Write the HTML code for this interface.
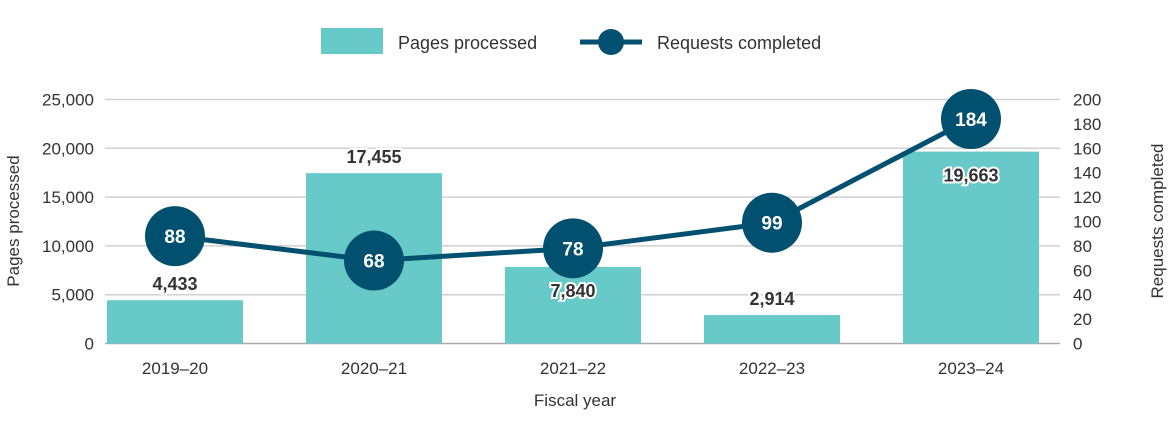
<!DOCTYPE html>
<html><head><meta charset="utf-8"><style>
body{margin:0;background:#fff;}
svg text{font-family:"Liberation Sans",sans-serif;}
</style></head><body>
<svg width="1170" height="429">
<g id="legend">
<rect x="321" y="28" width="62" height="26" fill="#67cac8"/>
<text x="398" y="49" font-size="18" fill="#333">Pages processed</text>
<line x1="580" y1="42" x2="642" y2="42" stroke="#02506f" stroke-width="5"/>
<circle cx="611" cy="42" r="13" fill="#02506f"/>
<text x="657" y="49" font-size="18" fill="#333">Requests completed</text>
</g>
<g id="grid"></g><g id="bars"></g><g id="line"></g><g id="labels"></g>
<text transform="translate(19,221) rotate(-90)" text-anchor="middle" font-size="17" fill="#333">Pages processed</text>
<text transform="translate(1163,221) rotate(-90)" text-anchor="middle" font-size="17" fill="#333">Requests completed</text>
<text x="575" y="406" text-anchor="middle" font-size="17" fill="#333">Fiscal year</text>
</svg>
<script>
const categories=["2019–20","2020–21","2021–22","2022–23","2023–24"];
const pages=[4433,17455,7840,2914,19663];
const requests=[88,68,78,99,184];
const leftTicks=[0,5000,10000,15000,20000,25000];
const rightTicks=[0,20,40,60,80,100,120,140,160,180,200];
const ns="http://www.w3.org/2000/svg";
const y0=343.5,h=244,x0=105,x1=1060;
const yL=v=>y0-v/25000*h, yR=v=>y0-v/200*h;
const xC=i=>175+i*199;
function mk(t,a,p){const e=document.createElementNS(ns,t);for(const k in a)e.setAttribute(k,a[k]);p.appendChild(e);return e;}
const grid=document.getElementById('grid'),bars=document.getElementById('bars'),line=document.getElementById('line'),labels=document.getElementById('labels');
leftTicks.forEach(v=>{
 const l=mk('line',{x1:x0,x2:x1,y1:yL(v),y2:yL(v),stroke:v==0?'#aaa':'#d0d0d0','stroke-width':1.5},grid);
 
 
 const t=mk('text',{x:94,y:yL(v)+6,'text-anchor':'end','font-size':17,fill:'#333'},grid);t.textContent=v.toLocaleString('en-US');
 
 
});
rightTicks.forEach(v=>{
 const t=mk('text',{x:1073,y:yR(v)+6,'font-size':17,fill:'#333'},grid);t.textContent=v;
 
 
});
categories.forEach((c,i)=>{
 const t=mk('text',{x:xC(i),y:374,'text-anchor':'middle','font-size':17,fill:'#333'},grid);t.textContent=c;
 
 
 const r=mk('rect',{x:xC(i)-68,y:yL(pages[i]),width:136,height:y0-yL(pages[i]),fill:'#67cac8'},bars);
 
 
});
const pts=requests.map((v,i)=>xC(i)+','+yR(v)).join(' ');
const pl=mk('polyline',{points:pts,fill:'none',stroke:'#02506f','stroke-width':5},line);


pages.forEach((v,i)=>{
 const top=yL(v);let ly=top-10;
 if(Math.abs(yR(requests[i])-top)<45&&yR(requests[i])<top+10)ly=top+30;
 const t=mk('text',{x:xC(i),y:ly,'text-anchor':'middle','font-size':18,'font-weight':'bold',fill:'#333',stroke:'#fff','stroke-width':4,'paint-order':'stroke'},labels);
 t.textContent=v.toLocaleString('en-US');
 
 
});
requests.forEach((v,i)=>{
 const c=mk('circle',{cx:xC(i),cy:yR(v),r:30,fill:'#02506f'},labels);
 
 
 const t=mk('text',{x:xC(i),y:yR(v)+7,'text-anchor':'middle','font-size':19,'font-weight':'bold',fill:'#fff'},labels);t.textContent=v;
 
 
});
</script>
</body></html>
